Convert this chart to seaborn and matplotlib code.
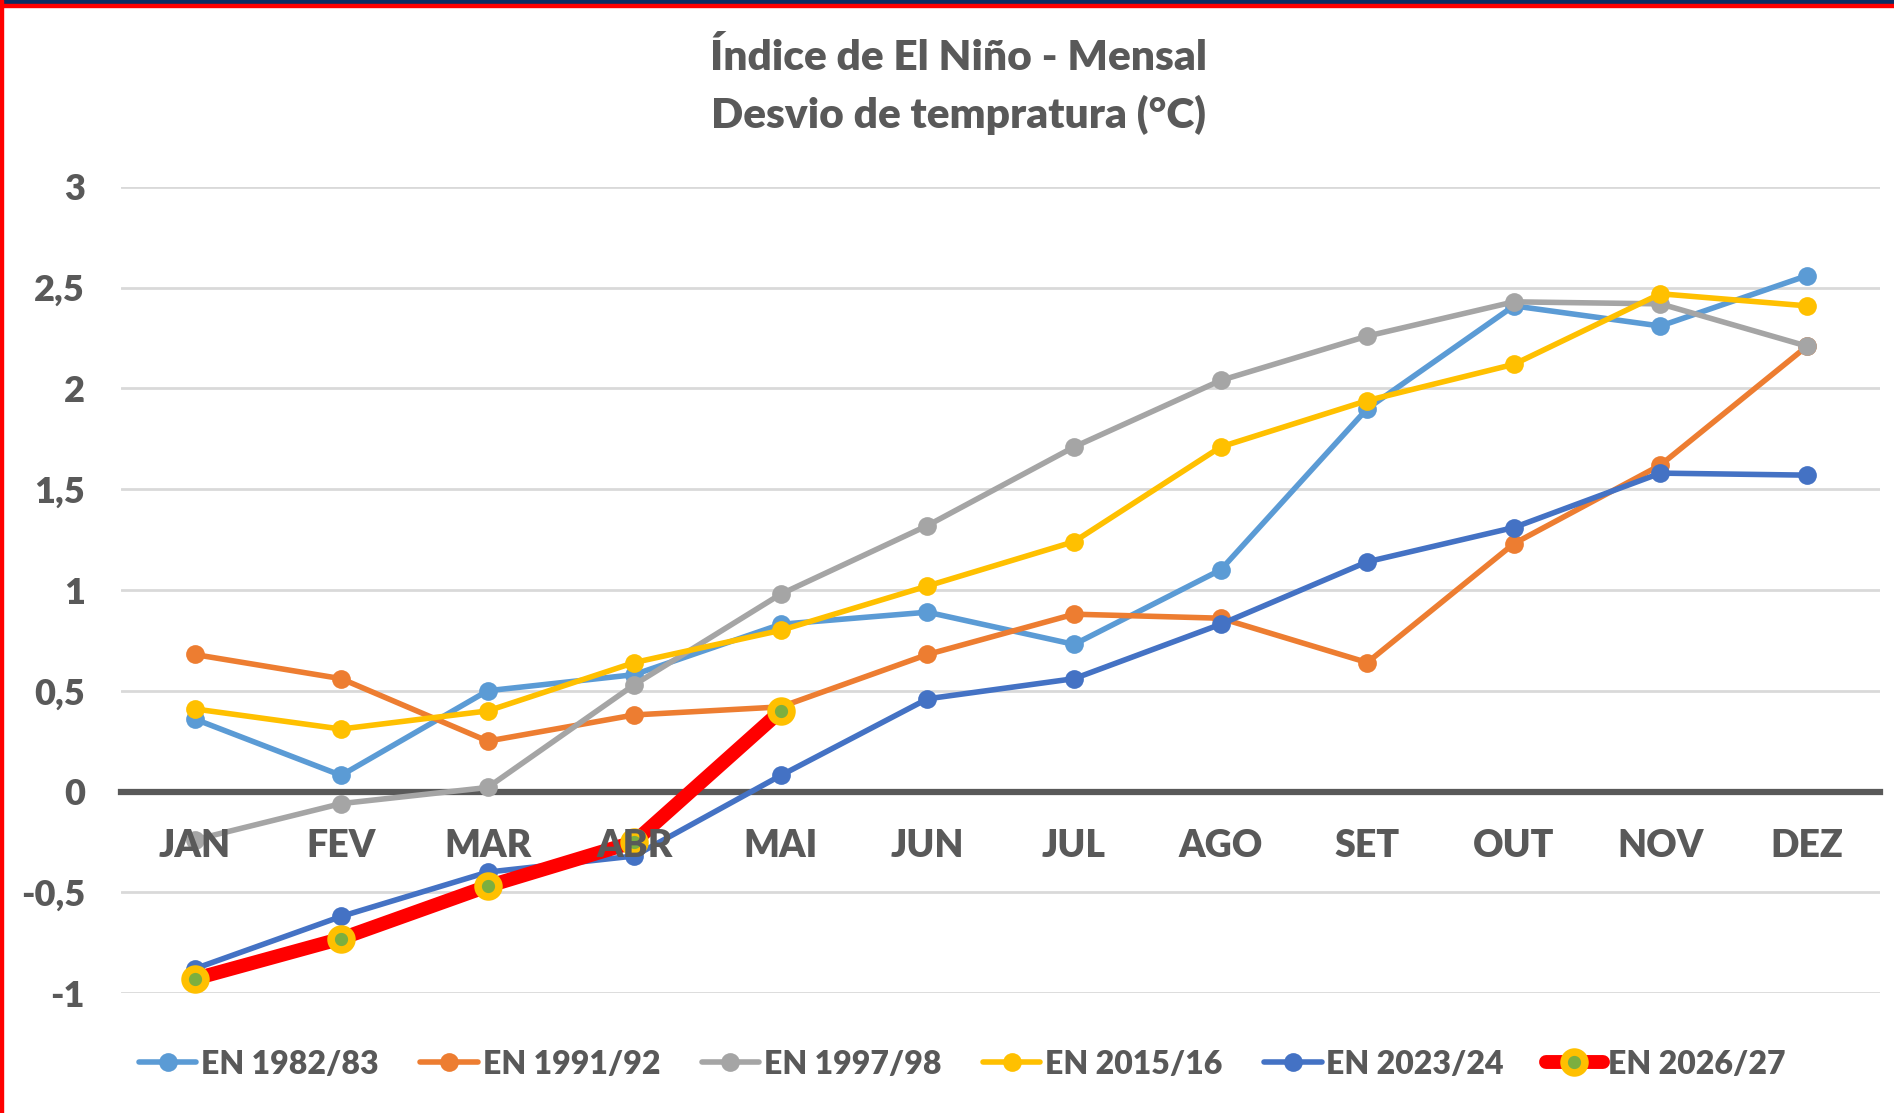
import numpy as np
import pandas as pd
import matplotlib.pyplot as plt
import seaborn as sns
from matplotlib.lines import Line2D
from matplotlib.patches import Rectangle
from matplotlib.ticker import FuncFormatter

sns.set_theme(style="white")
plt.rcParams['font.family'] = ['Lato', 'DejaVu Sans']

# Dados
meses = ['JAN', 'FEV', 'MAR', 'ABR', 'MAI', 'JUN', 'JUL', 'AGO', 'SET', 'OUT', 'NOV', 'DEZ']
en_1982 = [0.36, 0.08, 0.50, 0.58, 0.83, 0.89, 0.73, 1.10, 1.90, 2.41, 2.31, 2.56]
en_1991 = [0.68, 0.56, 0.25, 0.38, 0.42, 0.68, 0.88, 0.86, 0.64, 1.23, 1.62, 2.21]
en_1997 = [-0.24, -0.06, 0.02, 0.53, 0.98, 1.32, 1.71, 2.04, 2.26, 2.43, 2.42, 2.21]
en_2015 = [0.41, 0.31, 0.40, 0.64, 0.80, 1.02, 1.24, 1.71, 1.94, 2.12, 2.47, 2.41]
en_2023 = [-0.88, -0.62, -0.40, -0.32, 0.08, 0.46, 0.56, 0.83, 1.14, 1.31, 1.58, 1.57]
en_2026 = [-0.93, -0.73, -0.47, -0.25, 0.40] + [np.nan] * 7

series = ['EN 1982/83', 'EN 1991/92', 'EN 1997/98', 'EN 2015/16', 'EN 2023/24', 'EN 2026/27']
valores = [en_1982, en_1991, en_1997, en_2015, en_2023, en_2026]
cores = ['#5B9BD5', '#ED7D31', '#A5A5A5', '#FFC000', '#4472C4', '#FF0000']

TXT = '#595959'

fig = plt.figure(figsize=(18.94, 11.13), dpi=100)
ax = fig.add_axes([0.064, 0.1078, 0.9288, 0.7242])

x = np.arange(len(meses))
for i, (nome, vals, cor) in enumerate(zip(series, valores, cores)):
    df = pd.DataFrame({'x': x, 'y': vals}).dropna()
    if nome == 'EN 2026/27':
        sns.lineplot(data=df, x='x', y='y', ax=ax, color=cor, linewidth=10,
                     marker='o', markersize=15, markerfacecolor='#7CAF3F',
                     markeredgecolor='#FFC000', markeredgewidth=5.5, zorder=10)
    else:
        sns.lineplot(data=df, x='x', y='y', ax=ax, color=cor, linewidth=4,
                     marker='o', markersize=13.5, markeredgecolor=cor,
                     markeredgewidth=0, zorder=4 + i)

ax.set_xlim(-0.5, len(meses) - 0.5)
ax.set_ylim(-1, 3)
ax.set_yticks([-1, -0.5, 0, 0.5, 1, 1.5, 2, 2.5, 3])
ax.yaxis.set_major_formatter(FuncFormatter(lambda v, p: ('%g' % v).replace('.', ',')))
ax.set_xticks(x)
ax.set_xticklabels(meses)
ax.set_xlabel('')
ax.set_ylabel('')

ax.grid(axis='y', color='#D9D9D9', linewidth=2)
ax.set_axisbelow(True)
# rótulos dos meses por cima das linhas, como no Excel
ax.xaxis.set_zorder(20)
for s in ['top', 'left', 'right']:
    ax.spines[s].set_visible(False)
ax.spines['bottom'].set_position(('data', 0))
ax.spines['bottom'].set_color(TXT)
ax.spines['bottom'].set_linewidth(4.5)
ax.spines['bottom'].set_zorder(3)

ax.tick_params(axis='x', length=0, pad=27, labelsize=27, labelcolor=TXT)
ax.tick_params(axis='y', length=0, pad=26, labelsize=26, labelcolor=TXT)
for lb in ax.get_xticklabels() + ax.get_yticklabels():
    lb.set_fontweight('heavy')

fig.text(0.506, 0.948, 'Índice de El Niño - Mensal', ha='center', va='center',
         fontsize=30.5, fontweight='heavy', color=TXT)
fig.text(0.506, 0.897, 'Desvio de temprat ura (°C)'.replace('t ura', 'tura'), ha='center',
         va='center', fontsize=30.5, fontweight='heavy', color=TXT)

handles = []
for nome, cor in zip(series, cores):
    if nome == 'EN 2026/27':
        handles.append(Line2D([], [], color=cor, linewidth=10, marker='o', markersize=15,
                              markerfacecolor='#7CAF3F', markeredgecolor='#FFC000',
                              markeredgewidth=5.5))
    else:
        handles.append(Line2D([], [], color=cor, linewidth=4, marker='o',
                              markersize=13.5, markeredgewidth=0))
leg = fig.legend(handles, series, loc='center', bbox_to_anchor=(0.508, 0.044), ncol=6,
                 frameon=False, fontsize=23, handlelength=1.8, handletextpad=0.15,
                 columnspacing=1.3)
for t in leg.get_texts():
    t.set_color(TXT)
    t.set_fontweight('heavy')

# moldura da imagem original
fig.patches.append(Rectangle((0, 1 - 4 / 1113), 1, 4 / 1113, transform=fig.transFigure,
                             color='#0B2D63', zorder=0))
fig.patches.append(Rectangle((0, 1 - 7 / 1113), 1, 3 / 1113, transform=fig.transFigure,
                             color='#FF0000', zorder=0))
fig.patches.append(Rectangle((0, 0), 3 / 1894, 1, transform=fig.transFigure,
                             color='#FF0000', zorder=0))

fig.savefig('out.png', dpi=100, facecolor='white')
